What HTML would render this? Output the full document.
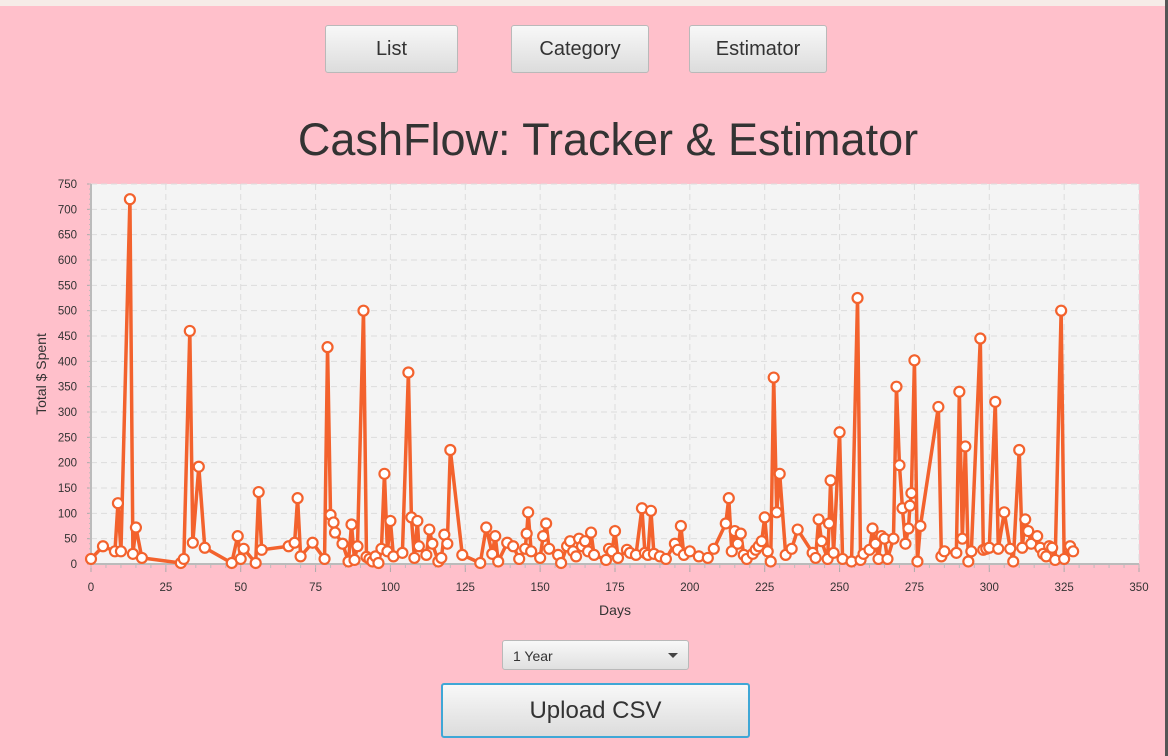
<!DOCTYPE html>
<html><head><meta charset="utf-8">
<style>
body{margin:0;width:1168px;height:756px;background:#ffc0cb;font-family:"Liberation Sans",sans-serif;position:relative;overflow:hidden}
.btn{position:absolute;border:1px solid #b9b9b9;border-radius:3px;background:linear-gradient(#f8f8f8,#dcdcdc);color:#333;font-size:20px;display:flex;align-items:center;justify-content:center;box-sizing:border-box}
</style></head><body>
<div style="position:absolute;left:0;top:0;width:1168px;height:6px;background:#f6ece8"></div>
<div style="position:absolute;left:1165px;top:0;width:3px;height:756px;background:#555"></div>
<div class="btn" style="left:325px;top:25px;width:133px;height:48px">List</div>
<div class="btn" style="left:511px;top:25px;width:138px;height:48px">Category</div>
<div class="btn" style="left:689px;top:25px;width:138px;height:48px">Estimator</div>
<div style="position:absolute;left:0;width:1216px;top:114px;text-align:center;font-size:45px;color:#333">CashFlow: Tracker &amp; Estimator</div>
<svg id="chart" width="1168" height="640" style="position:absolute;left:0;top:0" font-family="Liberation Sans, sans-serif"></svg>
<div style="position:absolute;left:502px;top:640px;width:187px;height:30px;box-sizing:border-box;border:1px solid #b9b9b9;border-radius:3px;background:linear-gradient(#f8f8f8,#e0e0e0);font-size:14px;color:#333;padding:7px 10px">1 Year<span style="position:absolute;right:10px;top:12px;border-left:5px solid transparent;border-right:5px solid transparent;border-top:5px solid #444"></span></div>
<div class="btn" style="left:441px;top:683px;width:309px;height:55px;border:2px solid #3fa7d6;font-size:24px">Upload CSV</div>
<script>
const days=[0,4,8,9,10,13,14,15,17,30,31,33,34,36,38,47,49,50,51,55,56,57,66,68,69,70,74,78,79,80,81,81.5,84,86,87,88,89,91,92,93,94,95,96,97,98,99,100,101,104,106,107,108,109,109.5,112,113,114,116,117,118,119,120,124,130,132,134,135,136,139,141,143,145,145.5,146,147,150,151,152,153,156,157,159,160,161,162,163,164,165,166,167,168,172,173,174,175,176,179,180,182,184,185,186,187,188,190,192,195,196,197,198,200,203,206,208,212,213,214,215,216,217,218,219,221,222,223,224,225,226,227,228,229,230,232,234,236,241,242,243,244,246,246.5,247,248,250,251,254,256,257,258,260,261,262,263,264,265,266,268,269,270,271,272,273,273.5,274,275,276,277,283,284,285,289,290,291,292,293,294,297,298,299,300,302,303,305,307,308,310,311,312,313,314,316,317,318,319,320,321,322,324,325,327,328];
const spent=[10,35,25,120,25,720,20,72,12,2,10,460,42,192,32,2,55,10,30,2,142,28,35,42,130,15,42,10,428,97,82,62,40,5,78,8,35,500,14,10,5,15,2,30,178,25,85,15,22,378,92,12,85,35,18,68,40,5,12,58,40,225,18,2,72,20,55,5,42,35,10,30,60,102,25,12,55,80,30,18,2,35,45,25,15,50,35,45,25,62,18,8,30,25,65,12,28,22,18,110,22,18,105,20,15,10,40,28,75,18,25,15,12,30,80,130,25,65,40,60,18,10,20,28,35,45,92,25,5,368,102,178,18,30,68,22,12,88,45,10,80,165,22,260,10,5,525,8,20,28,70,40,10,55,50,10,50,350,195,110,40,70,115,140,402,5,75,310,15,25,22,340,50,232,5,25,445,28,30,32,320,30,102,30,5,225,32,88,65,40,55,32,20,15,35,32,8,500,10,35,25];
const xTicks=[0,25,50,75,100,125,150,175,200,225,250,275,300,325,350];
const yTicks=[0,50,100,150,200,250,300,350,400,450,500,550,600,650,700,750];
const X0=91,X1=1139,Y0=564,Y1=184;
const sx=v=>X0+(v-0)/350*(X1-X0), sy=v=>Y0-(v/750)*(Y0-Y1);
const svg=document.getElementById('chart'),NS='http://www.w3.org/2000/svg';
function mk(t,a,p){const e=document.createElementNS(NS,t);for(const k in a)e.setAttribute(k,a[k]);(p||svg).appendChild(e);return e;}
const bg=mk('rect',{x:X0,y:Y1,width:X1-X0,height:Y0-Y1,fill:'#f4f4f4'});


yTicks.forEach(v=>{
 const g=mk('line',{x1:X0,x2:X1,y1:sy(v),y2:sy(v),stroke:'#dcdcdc','stroke-dasharray':'6,4'});
 
 
 mk('line',{x1:X0-4,x2:X0,y1:sy(v),y2:sy(v),stroke:'#aaa'});
 const t=mk('text',{x:X0-14,y:sy(v)+4,'text-anchor':'end','font-size':11.5,fill:'#333'});t.textContent=v;
 
 
});
for(let v=0;v<=750;v+=10){mk('line',{x1:X0-2,x2:X0,y1:sy(v),y2:sy(v),stroke:'#bbb'});}
xTicks.forEach(v=>{
 const g=mk('line',{x1:sx(v),x2:sx(v),y1:Y1,y2:Y0,stroke:'#dcdcdc','stroke-dasharray':'6,4'});
 
 
 mk('line',{x1:sx(v),x2:sx(v),y1:Y0,y2:Y0+8,stroke:'#aaa'});
 const t=mk('text',{x:sx(v),y:Y0+27,'text-anchor':'middle','font-size':11.5,fill:'#333'});t.textContent=v;
 
 
});
for(let v=0;v<=350;v+=5){mk('line',{x1:sx(v),x2:sx(v),y1:Y0,y2:Y0+4,stroke:'#bbb'});}
mk('line',{x1:X0,x2:X1,y1:Y0,y2:Y0,stroke:'#bbb','stroke-width':2});
mk('line',{x1:X0,x2:X0,y1:Y1,y2:Y0,stroke:'#bbb','stroke-width':2});
const xt=mk('text',{x:615,y:615,'text-anchor':'middle','font-size':14,fill:'#333'});xt.textContent='Days';


const yt=mk('text',{x:46,y:374,'text-anchor':'middle','font-size':14,fill:'#333',transform:'rotate(-90 46 374)'});yt.textContent='Total $ Spent';


const line=mk('polyline',{points:days.map((d,i)=>sx(d)+','+sy(spent[i])).join(' '),fill:'none',stroke:'#f3622d','stroke-width':3.5,'stroke-linejoin':'round'});


days.forEach((d,i)=>{
 const c=mk('circle',{cx:sx(d),cy:sy(spent[i]),r:5,fill:'#fff',stroke:'#f3622d','stroke-width':2.2});
 
 
});
</script>
</body></html>
